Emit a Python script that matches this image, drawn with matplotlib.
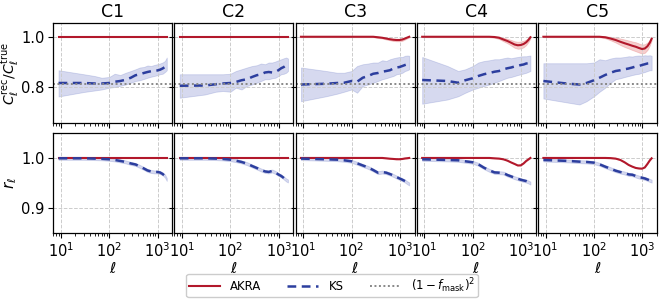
import matplotlib
matplotlib.use("Agg")
import matplotlib.pyplot as plt
import numpy as np

titles = ["C1", "C2", "C3", "C4", "C5"]
ell = [9, 30, 50, 70, 100, 130, 170, 220, 280, 350, 430, 520, 620, 730, 850, 980, 1120, 1270, 1420, 1550]
fmask_level = 0.81

# --- top row: C_rec / C_true ---
akra_top = [
    [1.0, 1.0, 1.0, 1.0, 1.0, 1.0, 1.0, 1.0, 1.0, 1.0, 1.0, 1.0, 1.0, 1.0, 1.0, 1.0, 1.0, 1.0, 1.0, 1.0],
    [1.0, 1.0, 1.0, 1.0, 1.0, 1.0, 1.0, 1.0, 1.0, 1.0, 1.0, 1.0, 1.0, 1.0, 1.0, 1.0, 1.0, 1.0, 1.0, 1.0],
    [1.0, 1.0, 1.0, 1.0, 1.0, 1.0, 1.0, 1.0, 1.0, 0.998, 0.996, 0.993, 0.990, 0.988, 0.987, 0.987, 0.989, 0.993, 0.997, 1.0],
    [1.0, 1.0, 1.0, 1.0, 1.0, 1.0, 1.0, 1.0, 0.999, 0.996, 0.989, 0.983, 0.976, 0.969, 0.966, 0.967, 0.971, 0.978, 0.988, 0.998],
    [1.0, 1.0, 1.0, 1.0, 1.0, 1.0, 0.998, 0.993, 0.987, 0.980, 0.974, 0.969, 0.964, 0.960, 0.955, 0.951, 0.953, 0.962, 0.976, 0.992],
]
akra_top_err = [
    [0.002, 0.002, 0.002, 0.002, 0.002, 0.002, 0.002, 0.002, 0.002, 0.002, 0.002, 0.002, 0.002, 0.002, 0.002, 0.002, 0.002, 0.002, 0.002, 0.002],
    [0.002, 0.002, 0.002, 0.002, 0.002, 0.002, 0.002, 0.002, 0.002, 0.002, 0.002, 0.002, 0.002, 0.002, 0.002, 0.002, 0.002, 0.002, 0.002, 0.002],
    [0.002, 0.002, 0.002, 0.002, 0.002, 0.002, 0.002, 0.002, 0.002, 0.003, 0.003, 0.004, 0.004, 0.005, 0.005, 0.005, 0.005, 0.004, 0.003, 0.003],
    [0.002, 0.002, 0.002, 0.002, 0.002, 0.002, 0.002, 0.002, 0.003, 0.005, 0.007, 0.009, 0.011, 0.013, 0.014, 0.014, 0.013, 0.011, 0.008, 0.005],
    [0.002, 0.002, 0.002, 0.002, 0.002, 0.002, 0.004, 0.007, 0.010, 0.013, 0.015, 0.016, 0.017, 0.018, 0.018, 0.018, 0.017, 0.015, 0.011, 0.007],
]
ks_top = [
    [0.815, 0.815, 0.813, 0.813, 0.815, 0.820, 0.823, 0.828, 0.836, 0.846, 0.850, 0.855, 0.859, 0.862, 0.863, 0.865, 0.868, 0.873, 0.879, 0.890],
    [0.804, 0.805, 0.810, 0.813, 0.815, 0.819, 0.826, 0.830, 0.839, 0.846, 0.850, 0.857, 0.859, 0.857, 0.859, 0.866, 0.874, 0.879, 0.886, 0.890],
    [0.809, 0.812, 0.815, 0.816, 0.823, 0.820, 0.836, 0.843, 0.852, 0.855, 0.860, 0.863, 0.866, 0.873, 0.877, 0.879, 0.883, 0.887, 0.890, 0.894],
    [0.827, 0.823, 0.816, 0.826, 0.834, 0.843, 0.850, 0.855, 0.860, 0.863, 0.870, 0.874, 0.877, 0.881, 0.883, 0.887, 0.889, 0.893, 0.894, 0.897],
    [0.823, 0.812, 0.809, 0.815, 0.826, 0.836, 0.847, 0.856, 0.863, 0.866, 0.870, 0.873, 0.877, 0.881, 0.883, 0.887, 0.890, 0.893, 0.894, 0.893],
]
ks_top_hi = [
    [0.866, 0.850, 0.843, 0.836, 0.839, 0.852, 0.847, 0.856, 0.863, 0.870, 0.877, 0.879, 0.885, 0.883, 0.887, 0.890, 0.893, 0.897, 0.903, 0.917],
    [0.850, 0.850, 0.850, 0.850, 0.852, 0.863, 0.870, 0.877, 0.883, 0.886, 0.893, 0.890, 0.897, 0.897, 0.901, 0.906, 0.910, 0.914, 0.917, 0.913],
    [0.877, 0.863, 0.856, 0.856, 0.863, 0.883, 0.890, 0.893, 0.897, 0.897, 0.906, 0.903, 0.910, 0.914, 0.917, 0.919, 0.919, 0.924, 0.925, 0.924],
    [0.919, 0.883, 0.863, 0.870, 0.883, 0.897, 0.903, 0.906, 0.910, 0.910, 0.914, 0.917, 0.914, 0.917, 0.919, 0.921, 0.922, 0.922, 0.924, 0.925],
    [0.894, 0.894, 0.894, 0.894, 0.897, 0.910, 0.906, 0.913, 0.917, 0.917, 0.919, 0.922, 0.921, 0.924, 0.925, 0.924, 0.926, 0.925, 0.926, 0.924],
]
ks_top_lo = [
    [0.761, 0.779, 0.785, 0.789, 0.796, 0.799, 0.804, 0.809, 0.816, 0.823, 0.826, 0.831, 0.836, 0.840, 0.843, 0.846, 0.850, 0.852, 0.859, 0.866],
    [0.756, 0.769, 0.780, 0.783, 0.780, 0.796, 0.789, 0.803, 0.809, 0.816, 0.823, 0.830, 0.830, 0.834, 0.836, 0.843, 0.850, 0.852, 0.856, 0.863],
    [0.742, 0.762, 0.772, 0.780, 0.789, 0.776, 0.803, 0.809, 0.816, 0.823, 0.830, 0.834, 0.839, 0.843, 0.850, 0.852, 0.856, 0.863, 0.866, 0.870],
    [0.732, 0.749, 0.762, 0.776, 0.789, 0.796, 0.803, 0.809, 0.816, 0.823, 0.830, 0.836, 0.839, 0.843, 0.847, 0.850, 0.853, 0.856, 0.860, 0.863],
    [0.753, 0.736, 0.729, 0.742, 0.762, 0.780, 0.796, 0.816, 0.830, 0.834, 0.839, 0.843, 0.847, 0.850, 0.852, 0.856, 0.859, 0.863, 0.866, 0.866],
]

# --- bottom row: cross-correlation r_ell ---
akra_bot = [
    [1.0, 1.0, 1.0, 1.0, 1.0, 1.0, 1.0, 1.0, 1.0, 1.0, 1.0, 1.0, 1.0, 1.0, 1.0, 1.0, 1.0, 1.0, 1.0, 1.0],
    [1.0, 1.0, 1.0, 1.0, 1.0, 1.0, 1.0, 1.0, 1.0, 1.0, 1.0, 1.0, 1.0, 1.0, 1.0, 1.0, 1.0, 1.0, 1.0, 1.0],
    [1.0, 1.0, 1.0, 1.0, 1.0, 1.0, 1.0, 1.0, 1.0, 1.0, 1.0, 0.9993, 0.9985, 0.998, 0.9975, 0.9975, 0.998, 0.999, 0.9995, 1.0],
    [1.0, 1.0, 1.0, 1.0, 1.0, 1.0, 1.0, 1.0, 0.9993, 0.9987, 0.9973, 0.9946, 0.991, 0.988, 0.985, 0.9852, 0.989, 0.994, 0.9973, 1.0],
    [1.0, 1.0, 1.0, 1.0, 1.0, 1.0, 1.0, 0.9997, 0.9987, 0.996, 0.9913, 0.986, 0.9826, 0.980, 0.979, 0.9786, 0.981, 0.988, 0.995, 0.9993],
]
ks_bot = [
    [0.9993, 0.9993, 0.9987, 0.9983, 0.9973, 0.996, 0.994, 0.992, 0.989, 0.987, 0.983, 0.979, 0.975, 0.973, 0.972, 0.972, 0.971, 0.968, 0.964, 0.957],
    [0.9993, 0.9993, 0.9987, 0.998, 0.9966, 0.9946, 0.992, 0.9886, 0.984, 0.980, 0.976, 0.973, 0.972, 0.974, 0.971, 0.967, 0.964, 0.960, 0.956, 0.954],
    [0.9987, 0.9973, 0.9966, 0.9953, 0.9933, 0.9893, 0.985, 0.981, 0.9758, 0.9705, 0.9718, 0.9705, 0.9678, 0.965, 0.9617, 0.959, 0.9564, 0.9537, 0.9503, 0.948],
    [0.9973, 0.996, 0.9953, 0.9933, 0.9913, 0.9873, 0.9805, 0.9752, 0.9711, 0.9705, 0.9698, 0.9658, 0.9631, 0.9604, 0.9584, 0.9564, 0.955, 0.9537, 0.9517, 0.9497],
    [0.996, 0.994, 0.9926, 0.992, 0.9906, 0.9873, 0.9826, 0.9785, 0.9745, 0.9718, 0.9698, 0.9671, 0.9664, 0.9638, 0.9617, 0.9604, 0.959, 0.957, 0.955, 0.9537],
]
ks_bot_err = 0.003
akra_bot_err = 0.0012

RED = "#b2182b"
BLUE = "#2c3e9e"
BAND_BLUE = "#5c6bc0"
BAND_RED = "#e57373"

fig, axes = plt.subplots(2, 5, figsize=(6.64, 2.99), dpi=100, sharex=True, sharey="row")
fig.subplots_adjust(left=0.080, right=0.9895, top=0.923, bottom=0.221, wspace=0.018, hspace=0.10)

x = np.array(ell, dtype=float)
for i in range(5):
    ax = axes[0, i]
    a = np.array(akra_top[i]); ae = np.array(akra_top_err[i])
    ax.fill_between(x, a - ae, a + ae, color=BAND_RED, alpha=0.35, lw=0.6)
    ax.plot(x, a, color=RED, lw=1.5, label="AKRA")
    ax.fill_between(x, ks_top_lo[i], ks_top_hi[i], facecolor=BAND_BLUE, alpha=0.25,
                    edgecolor=BAND_BLUE, lw=0.6)
    ax.plot(x, ks_top[i], color=BLUE, lw=1.8, ls=(0, (3.5, 2.2)), label="KS")
    ax.axhline(fmask_level, color="#888888", lw=1.4, ls=(0, (1, 1.3)), label=r"$(1-f_{\rm mask})^2$")
    ax.set_title(titles[i], fontsize=12.5, pad=4)

    axb = axes[1, i]
    b = np.array(akra_bot[i])
    k = np.array(ks_bot[i])
    axb.fill_between(x, k - ks_bot_err, k + ks_bot_err, facecolor=BAND_BLUE, alpha=0.25,
                     edgecolor=BAND_BLUE, lw=0.6)
    axb.fill_between(x, b - akra_bot_err, b + akra_bot_err, color=BAND_RED, alpha=0.35, lw=0)
    axb.plot(x, b, color=RED, lw=1.5)
    axb.plot(x, k, color=BLUE, lw=1.8, ls=(0, (3.5, 2.2)))
    axb.set_xlabel(r"$\ell$", fontsize=11, labelpad=1)

for ax in axes.flat:
    ax.set_xscale("log")
    ax.grid(True, which="major", ls="--", color="#cccccc", lw=0.7)
    ax.tick_params(axis="both", which="major", labelsize=10.5, length=3.5, width=0.8, pad=2.5)
    ax.tick_params(axis="x", which="minor", length=2, width=0.6)
    for s in ax.spines.values():
        s.set_linewidth(0.9)

axes[0, 0].set_ylim(0.655, 1.055)
axes[0, 0].set_yticks([0.8, 1.0])
axes[1, 0].set_ylim(0.85, 1.05)
axes[1, 0].set_yticks([0.9, 1.0])
axes[0, 0].set_ylabel(r"$C_\ell^{\rm rec}/C_\ell^{\rm true}$", fontsize=10)
axes[1, 0].set_ylabel(r"$r_\ell$", fontsize=11)
axes[0, 0].yaxis.set_label_coords(-0.27, 0.5)
axes[1, 0].yaxis.set_label_coords(-0.29, 0.5)

handles, labels = axes[0, 0].get_legend_handles_labels()
fig.legend(handles, labels, loc="lower center", bbox_to_anchor=(0.5, 0.0), ncol=3,
           fontsize=8.5, handlelength=2.6, columnspacing=2.2, borderpad=0.2,
           borderaxespad=0.15, handletextpad=0.9, framealpha=1, edgecolor="#cccccc")

fig.savefig("out.png", dpi=100)
